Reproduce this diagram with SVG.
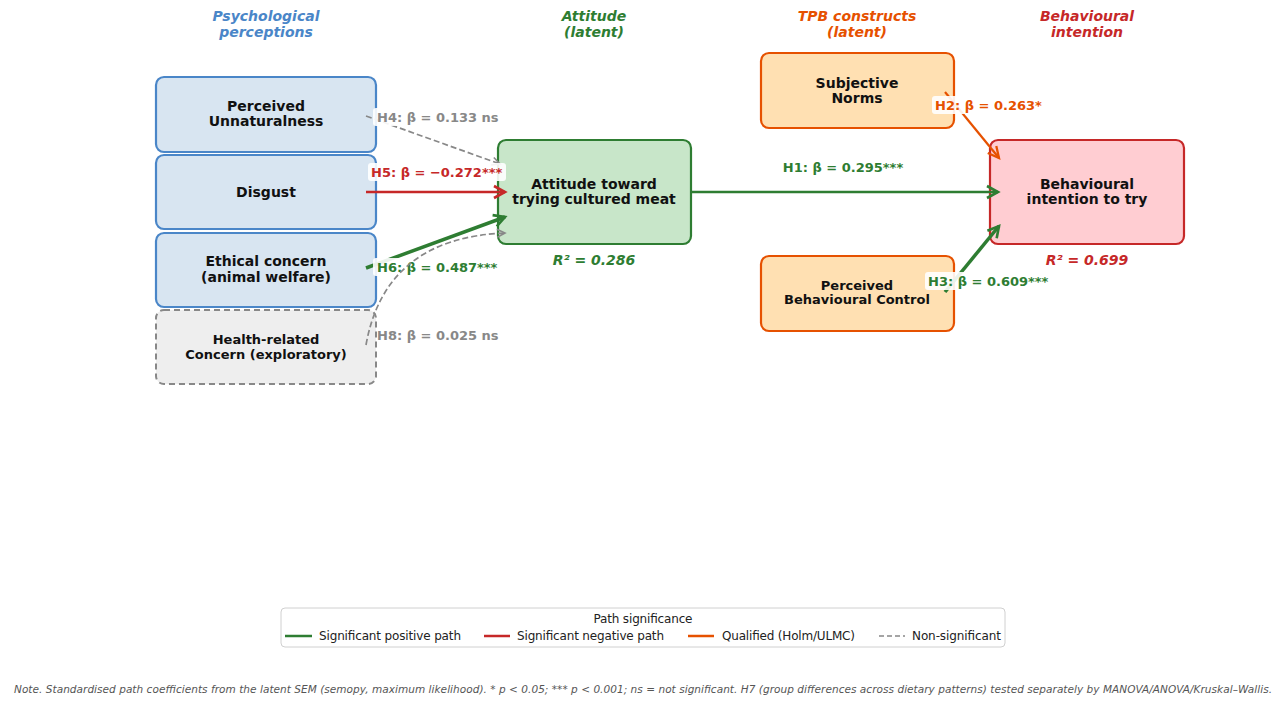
<svg xmlns="http://www.w3.org/2000/svg" width="1280" height="705" viewBox="0 0 1280 705">
<style>
.hdr{font-family:"DejaVu Sans",sans-serif;font-weight:bold;font-style:italic;font-size:14px;text-anchor:middle}
.nt{font-family:"DejaVu Sans",sans-serif;font-weight:bold;font-size:14px;text-anchor:middle;fill:#111}
.ns{font-size:13px}
.lbl{font-family:"DejaVu Sans",sans-serif;font-weight:bold;font-size:13px}
.r2{font-family:"DejaVu Sans",sans-serif;font-weight:bold;font-style:italic;font-size:14px;text-anchor:middle}
.bg{fill:#fff;fill-opacity:0.9}
.blue{fill:#d8e5f1;stroke:#4a86c8;stroke-width:2.2}
.leg{font-family:"DejaVu Sans",sans-serif;font-size:12px;fill:#222}
.c{fill:none}
</style>
<defs>
<marker id="aG" markerUnits="userSpaceOnUse" markerWidth="16" markerHeight="16" refX="13" refY="8" orient="auto"><path d="M2,2 L13,8 L2,14" fill="none" stroke="#2e7d32" stroke-width="2.6"/></marker>
<marker id="aR" markerUnits="userSpaceOnUse" markerWidth="16" markerHeight="16" refX="13" refY="8" orient="auto"><path d="M2,2 L13,8 L2,14" fill="none" stroke="#c62828" stroke-width="2.6"/></marker>
<marker id="aO" markerUnits="userSpaceOnUse" markerWidth="16" markerHeight="16" refX="13" refY="8" orient="auto"><path d="M2,2.5 L13,8 L2,13.5" fill="none" stroke="#e65100" stroke-width="2.3"/></marker>
<marker id="aY" markerUnits="userSpaceOnUse" markerWidth="14" markerHeight="14" refX="11" refY="7" orient="auto"><path d="M3,3 L11,7 L3,11" fill="none" stroke="#888" stroke-width="1.6"/></marker>
</defs>
<rect width="1280" height="705" fill="#fff"/>

<g id="headers">
<text class="hdr" x="266" y="21" fill="#4a86c8">Psychological<tspan x="266" dy="16">perceptions</tspan></text>
<text class="hdr" x="594" y="21" fill="#2e7d32">Attitude<tspan x="594" dy="16">(latent)</tspan></text>
<text class="hdr" x="857" y="21" fill="#e65100">TPB constructs<tspan x="857" dy="16">(latent)</tspan></text>
<text class="hdr" x="1087" y="21" fill="#c62828">Behavioural<tspan x="1087" dy="16">intention</tspan></text>
</g>

<g id="node-unnaturalness"><rect class="blue" x="156" y="77" width="220" height="75" rx="8"/><text class="nt" x="266" y="111">Perceived<tspan x="266" dy="15">Unnaturalness</tspan></text></g>
<g id="node-disgust"><rect class="blue" x="156" y="155" width="220" height="74" rx="8"/><text class="nt" x="266" y="197">Disgust</text></g>
<g id="node-ethical"><rect class="blue" x="156" y="233" width="220" height="74" rx="8"/><text class="nt" x="266" y="266">Ethical concern<tspan x="266" dy="16">(animal welfare)</tspan></text></g>
<g id="node-health"><rect x="156" y="310" width="220" height="74" rx="8" fill="#eeeeee" stroke="#888" stroke-width="2" stroke-dasharray="6,4"/><text class="nt ns" x="266" y="344">Health-related<tspan x="266" dy="15">Concern (exploratory)</tspan></text></g>
<g id="node-attitude"><rect x="498" y="140" width="193" height="104" rx="8" fill="#c8e6c9" stroke="#2e7d32" stroke-width="2.2"/><text class="nt" x="594" y="189">Attitude toward<tspan x="594" dy="15">trying cultured meat</tspan></text><text class="r2" x="594" y="265" fill="#2e7d32">R² = 0.286</text></g>
<g id="node-sn"><rect x="761" y="53" width="193" height="75" rx="8" fill="#ffe0b2" stroke="#e65100" stroke-width="2.2"/><text class="nt" x="857" y="88">Subjective<tspan x="857" dy="15">Norms</tspan></text></g>
<g id="node-pbc"><rect x="761" y="256" width="193" height="75" rx="8" fill="#ffe0b2" stroke="#e65100" stroke-width="2.2"/><text class="nt ns" x="857" y="290">Perceived<tspan x="857" dy="14">Behavioural Control</tspan></text></g>
<g id="node-bi"><rect x="990" y="140" width="194" height="104" rx="8" fill="#ffcdd2" stroke="#c62828" stroke-width="2.2"/><text class="nt" x="1087" y="189">Behavioural<tspan x="1087" dy="15">intention to try</tspan></text><text class="r2" x="1087" y="265" fill="#c62828">R² = 0.699</text></g>

<g id="connectors">
<path class="c" d="M366,116 L500,164" stroke="#888" stroke-width="1.7" stroke-dasharray="6,3" marker-end="url(#aY)"/>
<rect class="bg" x="373" y="108" width="126" height="18" rx="3"/>
<text class="lbl" x="377" y="122" fill="#888">H4: β = 0.133 ns</text>

<path class="c" d="M366,192 L505,192" stroke="#c62828" stroke-width="2.5" marker-end="url(#aR)"/>
<rect class="bg" x="368" y="163" width="138" height="18" rx="3"/>
<text class="lbl" x="371" y="177" fill="#c62828">H5: β = −0.272***</text>

<path class="c" d="M366,268 L505,217" stroke="#2e7d32" stroke-width="3.5" marker-end="url(#aG)"/>
<rect class="bg" x="373" y="258" width="126" height="18" rx="3"/>
<text class="lbl" x="377" y="272" fill="#2e7d32">H6: β = 0.487***</text>

<path class="c" d="M366,345 Q385,238 505,233" stroke="#888" stroke-width="1.7" stroke-dasharray="6,3" marker-end="url(#aY)"/>
<text class="lbl" x="377" y="340" fill="#888">H8: β = 0.025 ns</text>

<path class="c" d="M691,192 L998,192" stroke="#2e7d32" stroke-width="2.5" marker-end="url(#aG)"/>
<text class="lbl" x="843" y="172" fill="#2e7d32" text-anchor="middle">H1: β = 0.295***</text>

<path class="c" d="M945,92 L999,158" stroke="#e65100" stroke-width="2.2" marker-end="url(#aO)"/>
<rect class="bg" x="932" y="96" width="110" height="18" rx="3"/>
<text class="lbl" x="935" y="110" fill="#e65100">H2: β = 0.263*</text>

<path class="c" d="M945,292 L999,226" stroke="#2e7d32" stroke-width="3.5" marker-end="url(#aG)"/>
<rect class="bg" x="925" y="272" width="125" height="18" rx="3"/>
<text class="lbl" x="928" y="286" fill="#2e7d32">H3: β = 0.609***</text>
</g>

<g id="legend">
<rect x="281" y="608" width="724" height="39" rx="4" fill="#fff" stroke="#d0d0d0" stroke-width="1"/>
<text class="leg" x="643" y="623" text-anchor="middle" textLength="99">Path significance</text>
<line x1="285" y1="636" x2="312" y2="636" stroke="#2e7d32" stroke-width="2.5"/>
<text class="leg" x="319" y="640" textLength="142">Significant positive path</text>
<line x1="484" y1="636" x2="510" y2="636" stroke="#c62828" stroke-width="2.5"/>
<text class="leg" x="517" y="640" textLength="147">Significant negative path</text>
<line x1="688" y1="636" x2="714" y2="636" stroke="#e65100" stroke-width="2.5"/>
<text class="leg" x="722" y="640" textLength="133">Qualified (Holm/ULMC)</text>
<line x1="879" y1="636" x2="905" y2="636" stroke="#888" stroke-width="1.5" stroke-dasharray="5,3"/>
<text class="leg" x="912" y="640" textLength="89">Non-significant</text>
</g>

<text x="14" y="693" font-family="DejaVu Sans, sans-serif" font-style="italic" font-size="10.5" fill="#555" textLength="1258">Note. Standardised path coefficients from the latent SEM (semopy, maximum likelihood). * p &lt; 0.05; *** p &lt; 0.001; ns = not significant. H7 (group differences across dietary patterns) tested separately by MANOVA/ANOVA/Kruskal–Wallis.</text>
</svg>
